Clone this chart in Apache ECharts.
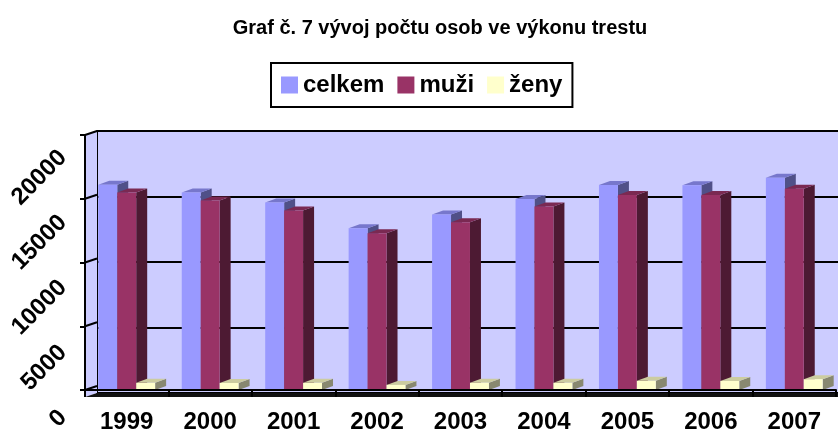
<!DOCTYPE html>
<html>
<head>
<meta charset="utf-8">
<script src="https://cdn.jsdelivr.net/npm/echarts@6/dist/echarts.min.js"></script>
<style>
html,body{margin:0;padding:0;background:#fff;}
#chart{width:838px;height:434px;}
</style>
</head>
<body>
<div id="chart"></div>
<script>
var years = ['1999','2000','2001','2002','2003','2004','2005','2006','2007'];
var celkem = [16100, 15490, 14710, 12690, 13760, 14980, 16080, 16050, 16640];
var muzi   = [15490, 14860, 14070, 12290, 13150, 14400, 15290, 15290, 15780];
var zeny   = [560, 550, 560, 400, 570, 560, 720, 710, 850];
var yTicks = [0, 5000, 10000, 15000, 20000];

var FONT = '"Liberation Sans", Arial, sans-serif';
var BAR_FRAC = 0.227;
var DX = 11, DY = -4;

function makeRender(idx, front, topc, side) {
  return function (params, api) {
    var cat = api.value(0), v = api.value(1);
    var base = api.coord([cat, 0]);
    var top = api.coord([cat, v]);
    var cw = api.size([1, 0])[0];
    var bw = cw * BAR_FRAC;
    var x0 = base[0] - 1.5 * bw + idx * bw;
    var x1 = x0 + bw;
    var yb = base[1], yt = top[1];
    return {
      type: 'group',
      children: [
        { type: 'polygon', shape: { points: [[x1, yt], [x1 + DX, yt + DY], [x1 + DX, yb + DY], [x1, yb]] }, style: { fill: side } },
        { type: 'polygon', shape: { points: [[x0, yt], [x0 + DX, yt + DY], [x1 + DX, yt + DY], [x1, yt]] }, style: { fill: topc } },
        { type: 'rect', shape: { x: x0, y: yt, width: bw, height: yb - yt }, style: { fill: front } }
      ]
    };
  };
}

function barSeries(name, data, idx, front, topc, side) {
  return {
    name: name,
    type: 'custom',
    xAxisIndex: 0, yAxisIndex: 0,
    itemStyle: { color: front },
    renderItem: makeRender(idx, front, topc, side),
    data: data.map(function (v, i) { return [i, v]; }),
    z: 3
  };
}

var chart = echarts.init(document.getElementById('chart'));
chart.setOption({
  backgroundColor: '#ffffff',
  animation: false,
  title: {
    text: 'Graf č. 7 vývoj počtu osob ve výkonu trestu',
    left: 435, top: 13, textAlign: 'center',
    textStyle: { fontFamily: FONT, fontSize: 20, fontWeight: 'bold', color: '#000' }
  },
  legend: {
    data: [
      { name: 'celkem', icon: 'rect' },
      { name: 'muži', icon: 'rect' },
      { name: 'ženy', icon: 'rect' }
    ],
    left: 271, top: 63,
    padding: [10, 10, 10, 10],
    borderColor: '#000', borderWidth: 2,
    itemWidth: 17, itemHeight: 17, itemGap: 13,
    textStyle: { fontFamily: FONT, fontSize: 24, fontWeight: 'bold', color: '#000' }
  },
  grid: [
    { left: 85, top: 135, right: 2, bottom: 37 },
    { left: 97, top: 131, right: 0, bottom: 41, show: true, backgroundColor: '#CCCCFF', borderWidth: 0 },
    { left: 85, top: 154, right: 2, bottom: 18 }
  ],
  xAxis: [
    {
      gridIndex: 0, type: 'category', data: years,
      axisLine: { show: true, lineStyle: { color: '#000', width: 2 } },
      axisTick: { show: true, length: 7, lineStyle: { color: '#000', width: 2 } },
      axisLabel: { margin: 20, fontFamily: FONT, fontSize: 24, fontWeight: 'bold', color: '#000' },
      splitLine: { show: false }, z: 4
    },
    { gridIndex: 1, type: 'category', data: years, show: false },
    { gridIndex: 2, type: 'category', data: years, show: false }
  ],
  yAxis: [
    {
      gridIndex: 0, type: 'value', min: 0, max: 20000, interval: 5000,
      axisLine: { show: true, lineStyle: { color: '#000', width: 2 } },
      axisTick: { show: true, length: 5, lineStyle: { color: '#000', width: 2 } },
      axisLabel: { show: false },
      splitLine: { show: false }, z: 4
    },
    {
      gridIndex: 1, type: 'value', min: 0, max: 20000, interval: 5000,
      axisLine: { show: true, lineStyle: { color: '#000', width: 2 } },
      axisTick: { show: false },
      axisLabel: { show: false },
      splitLine: { show: true, lineStyle: { color: '#000', width: 2 } }
    },
    {
      gridIndex: 2, type: 'value', min: 0, max: 20000, interval: 5000,
      axisLine: { show: false }, axisTick: { show: false }, splitLine: { show: false },
      axisLabel: { show: true, rotate: 45, margin: 22, fontFamily: FONT, fontSize: 24, fontWeight: 'bold', color: '#000',
        formatter: function (v) { return String(v); } }
    }
  ],
  graphic: [
    { type: 'polygon', z: 1, shape: { points: [[85, 135], [97, 131], [97, 393], [85, 397]] }, style: { fill: '#CCCCFF' } },
    { type: 'polygon', z: 1, shape: { points: [[85, 397], [97, 393], [838, 393], [838, 397]] }, style: { fill: '#111111' } }
  ],
  series: [
    {
      name: 'sidewall', type: 'custom', xAxisIndex: 0, yAxisIndex: 0, z: 2,
      renderItem: function (params, api) {
        var p = api.coord([0, api.value(0)]);
        var cw = api.size([1, 0])[0];
        var x = p[0] - cw / 2;
        return { type: 'line', shape: { x1: x, y1: p[1], x2: x + 12, y2: p[1] - 4 }, style: { stroke: '#000', lineWidth: 2 } };
      },
      data: yTicks.map(function (v) { return [v]; }),
      encode: { y: 0 }
    },
    barSeries('celkem', celkem, 0, '#9999FF', '#7777CC', '#505088'),
    barSeries('muži', muzi, 1, '#993366', '#7A2952', '#4D1A33'),
    barSeries('ženy', zeny, 2, '#FFFFCC', '#CCCCA0', '#888870')
  ]
});
</script>
</body>
</html>
